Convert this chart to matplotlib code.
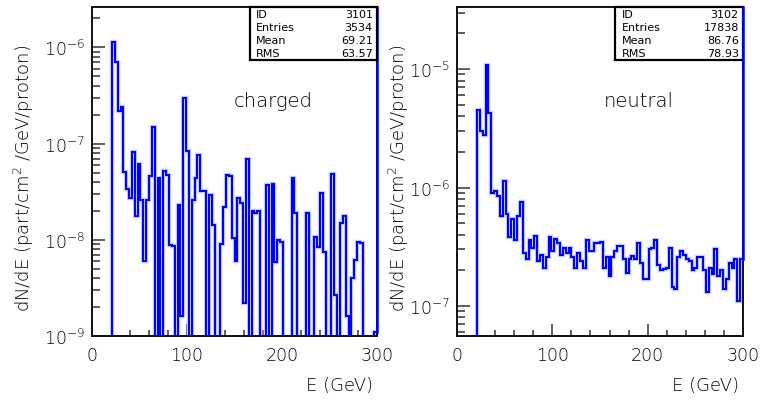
import numpy as np
import matplotlib
matplotlib.use("Agg")
import matplotlib.pyplot as plt
from matplotlib.ticker import LogLocator, MultipleLocator, NullFormatter

plt.rcParams["font.family"] = ["DejaVu Sans"]
plt.rcParams["font.weight"] = "light"
plt.rcParams["mathtext.default"] = "regular"

# === Data (3 GeV bins, 0-300 GeV) ===
edges = np.arange(0, 301, 3)

charged = [
    0, 0, 0, 0, 0, 0, 0, 1.15e-6, 7.0e-7, 2.17e-7,
    2.42e-7, 5.1e-8, 3.4e-8, 2.74e-8, 8.1e-8, 1.77e-8, 6.2e-8, 2.6e-8, 6.0e-9, 2.57e-8,
    4.6e-8, 1.5e-7, 0, 4.4e-8, 0, 5.2e-8, 4.7e-8, 8.9e-9, 8.7e-9, 0,
    2.3e-8, 1.6e-9, 2.95e-7, 8.4e-8, 0, 2.6e-8, 4.4e-8, 7.7e-8, 3.2e-8, 3.2e-8,
    0, 2.9e-8, 1.44e-8, 0, 0, 9.1e-9, 2.2e-8, 4.7e-8, 4.6e-8, 1.05e-8,
    6.0e-9, 2.7e-8, 2.4e-8, 2.2e-9, 6.9e-8, 0, 2.0e-8, 1.9e-8, 2.0e-8, 0,
    0, 3.7e-8, 0, 3.8e-8, 5.9e-9, 1.0e-8, 9.5e-9, 0, 0, 0,
    4.4e-8, 1.9e-8, 0, 0, 0, 1.9e-8, 0, 0, 1.07e-8, 8.5e-9,
    3.1e-8, 7.5e-9, 0, 0, 4.8e-8, 2.7e-9, 0, 1.5e-8, 1.75e-8, 1.6e-9,
    0, 4.0e-9, 6.2e-9, 9.5e-9, 9.2e-9, 0, 0, 0, 0, 1.1e-9,
]

neutral = [
    0, 0, 0, 0, 0, 0, 0, 4.5e-6, 3.0e-6, 2.76e-6,
    1.08e-5, 4.26e-6, 9.0e-7, 9.4e-7, 8.5e-7, 5.8e-7, 1.14e-6, 6.0e-7, 3.8e-7, 5.4e-7,
    3.6e-7, 5.8e-7, 7.6e-7, 2.78e-7, 2.5e-7, 3.6e-7, 3.1e-7, 3.9e-7, 2.4e-7, 2.7e-7,
    2.1e-7, 2.6e-7, 3.8e-7, 2.9e-7, 3.7e-7, 3.4e-7, 2.7e-7, 3.1e-7, 2.8e-7, 3.1e-7,
    2.6e-7, 2.1e-7, 2.8e-7, 2.4e-7, 2.1e-7, 3.6e-7, 2.9e-7, 2.9e-7, 3.4e-7, 3.4e-7,
    3.5e-7, 2.1e-7, 2.6e-7, 1.8e-7, 2.6e-7, 2.9e-7, 3.2e-7, 3.2e-7, 2.5e-7, 1.9e-7,
    2.5e-7, 2.65e-7, 2.5e-7, 3.4e-7, 2.3e-7, 1.7e-7, 1.7e-7, 3.0e-7, 3.1e-7, 3.6e-7,
    2.2e-7, 2.0e-7, 2.05e-7, 2.1e-7, 3.1e-7, 1.45e-7, 1.4e-7, 2.6e-7, 2.9e-7, 2.7e-7,
    2.5e-7, 2.4e-7, 2.0e-7, 2.1e-7, 2.6e-7, 2.6e-7, 2.0e-7, 1.3e-7, 2.1e-7, 1.85e-7,
    3.0e-7, 1.8e-7, 2.0e-7, 1.4e-7, 1.7e-7, 2.3e-7, 2.1e-7, 2.5e-7, 1.1e-7, 2.5e-7,
]

stats_labels = ["ID", "Entries", "Mean", "RMS"]
charged_stats = ["3101", "3534", "69.21", "63.57"]
neutral_stats = ["3102", "17838", "86.76", "78.93"]

YLABEL = "dN/dE (part/cm$^{2}$ /GeV/proton)"
XLABEL = "E (GeV)"

W, H = 761, 406
BLUE = "#0000ff"
TXT = "black"


def draw_panel(fig, rect, values, ylim, title, stats, box_on_top):
    ax = fig.add_axes(rect)
    ax.set_yscale("log")
    ax.set_xlim(0, 300)
    ax.set_ylim(*ylim)

    vals = np.asarray(values, dtype=float)
    floor = ylim[0] * 1e-3
    vals = np.where(vals > 0, vals, floor)

    # soft halo + line, like the old PAW output
    ax.stairs(vals, edges, baseline=None, color="#c9cfff", lw=3.2, zorder=2)
    ax.stairs(vals, edges, baseline=None, color=BLUE, lw=1.5, zorder=3)
    # histogram closes up along the right edge
    ax.plot([300, 300], [vals[-1], ylim[1]], color=BLUE, lw=1.8,
            clip_on=False, zorder=6 if box_on_top else 3)

    # ticks
    ax.xaxis.set_major_locator(MultipleLocator(100))
    ax.xaxis.set_minor_locator(MultipleLocator(20))
    ax.yaxis.set_major_locator(LogLocator(base=10, numticks=20))
    ax.yaxis.set_minor_locator(LogLocator(base=10, subs=np.arange(2, 10), numticks=20))
    ax.yaxis.set_minor_formatter(NullFormatter())
    ax.tick_params(which="both", direction="in", top=False, right=False,
                   width=1.2, color="#444444", labelsize=12.5, labelcolor=TXT)
    ax.tick_params(axis="x", which="major", length=9, pad=7)
    ax.tick_params(axis="x", which="minor", length=4)
    ax.tick_params(axis="y", which="major", length=9, pad=5)
    ax.tick_params(axis="y", which="minor", length=5.5)
    for s in ax.spines.values():
        s.set_linewidth(1.4)
        s.set_color("#111111")

    ax.text(0.635, 0.715, title, transform=ax.transAxes, ha="center", va="center",
            fontsize=14, color=TXT)

    # statistics box
    bx0, by0 = 0.553, 0.84
    box = plt.Rectangle((bx0, by0), 1 - bx0, 1 - by0, transform=ax.transAxes,
                        facecolor="white", edgecolor="black", lw=1.6, zorder=5,
                        clip_on=False)
    ax.add_patch(box)
    row_h = (1 - by0) / 4
    for i, (lab, val) in enumerate(zip(stats_labels, stats)):
        yy = 1 - row_h * (i + 0.5)
        ax.text(bx0 + 0.022, yy, lab, transform=ax.transAxes, ha="left",
                va="center", fontsize=8, fontweight="normal", color="black",
                zorder=7)
        ax.text(0.985, yy, val, transform=ax.transAxes, ha="right",
                va="center", fontsize=8, fontweight="normal", color="black",
                zorder=7)
    return ax


fig = plt.figure(figsize=(W / 100, H / 100), dpi=100)

ax_l = draw_panel(fig, [92 / W, 1 - 337 / H, 285 / W, 329 / H], charged,
                  (1e-9, 2.63e-6), "charged", charged_stats, False)
ax_r = draw_panel(fig, [457 / W, 1 - 337 / H, 286 / W, 329 / H], neutral,
                  (5.58e-8, 3.34e-5), "neutral", neutral_stats, True)

fig.text(24 / W, 1 - 178 / H, YLABEL, rotation=90, ha="center", va="center",
         fontsize=13, color=TXT)
fig.text(399 / W, 1 - 178 / H, YLABEL, rotation=90, ha="center", va="center",
         fontsize=13, color=TXT)
fig.text(373 / W, 1 - 386 / H, XLABEL, ha="right", va="center",
         fontsize=13, color=TXT)
fig.text(739 / W, 1 - 386 / H, XLABEL, ha="right", va="center",
         fontsize=13, color=TXT)

fig.savefig("out.png", dpi=100)
